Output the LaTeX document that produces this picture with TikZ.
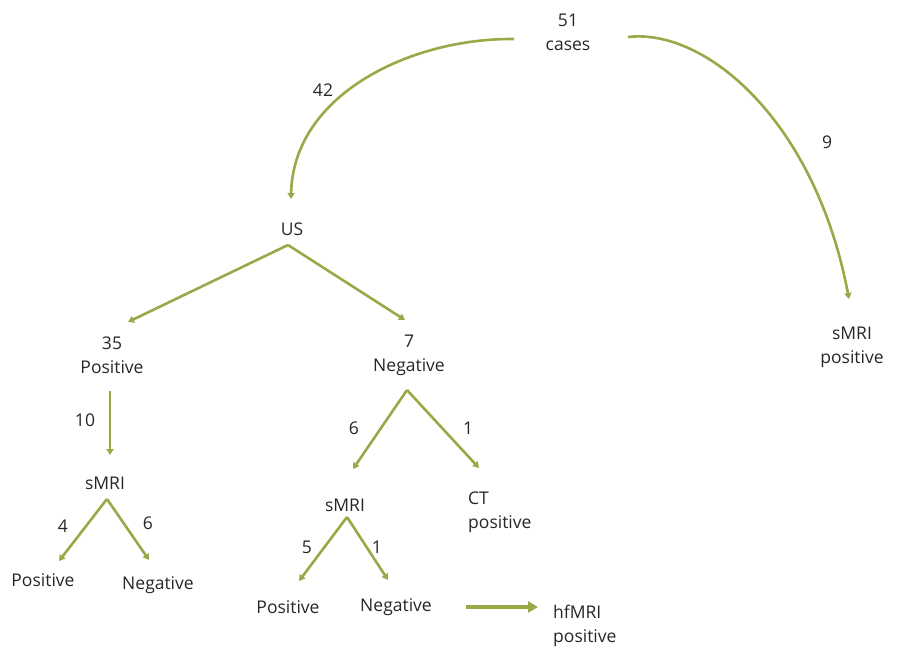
\documentclass[tikz,border=0pt]{standalone}
\usepackage{fontspec}
\setmainfont{Open Sans}
\usetikzlibrary{arrows.meta}
\definecolor{olv}{RGB}{150,170,72}
\tikzset{
  lbl/.style={inner sep=0pt, font=\fontsize{17.5}{24}\selectfont, text=black!85, align=center},
  conn/.style={draw=olv, line width=2.6pt, -{Triangle[length=6pt,width=7pt]}},
  bigconn/.style={draw=olv, line width=4.5pt, -{Triangle[length=10pt,width=11pt]}},
}
\begin{document}
\begin{tikzpicture}[x=1pt,y=-1pt]
\useasboundingbox (0,0) rectangle (898,648);
% text nodes
\node[lbl] (cases) at (568,32) {51\\cases};
\node[lbl] (l42) at (323,90) {42};
\node[lbl] (l9) at (827,142) {9};
\node[lbl] (us) at (292,229) {US};
\node[lbl] (pos35) at (112,355) {35\\Positive};
\node[lbl] (neg7) at (409,355) {7\\Negative};
\node[lbl] (smriR) at (852,347) {sMRI\\positive};
\node[lbl] (l10) at (85,420) {10};
\node[lbl] (smriA) at (105,483) {sMRI};
\node[lbl] (l4) at (63,526) {4};
\node[lbl] (l6a) at (148,523) {6};
\node[lbl] (posA) at (43,580) {Positive};
\node[lbl] (negA) at (158,585) {Negative};
\node[lbl] (l6b) at (354,428) {6};
\node[lbl] (l1a) at (468,428) {1};
\node[lbl] (smriB) at (345,505) {sMRI};
\node[lbl, align=left, anchor=west] (ct) at (468,512) {CT\\positive};
\node[lbl] (l5) at (307,547) {5};
\node[lbl] (l1b) at (377,547) {1};
\node[lbl] (posB) at (288,607) {Positive};
\node[lbl] (negB) at (396,607) {Negative};
\node[lbl, align=left, anchor=west] (hf) at (553,626) {hfMRI\\positive};
% connector points
\coordinate (cL) at (514,39);
\coordinate (cR) at (628,37);
\coordinate (usTip) at (291,199);
\coordinate (rTip) at (849,299);
\coordinate (apUS) at (288,245);
\coordinate (tipPos35) at (128,322);
\coordinate (tipNeg7) at (405,320);
\coordinate (s10) at (110,391);
\coordinate (t10) at (110,455);
\coordinate (apA) at (107,499);
\coordinate (tA1) at (59,561);
\coordinate (tA2) at (149,560);
\coordinate (apN) at (407,390);
\coordinate (tN1) at (353,469);
\coordinate (tN2) at (479,468);
\coordinate (apB) at (347,517);
\coordinate (tB1) at (299,581);
\coordinate (tB2) at (388,580);
\coordinate (hs) at (466,607);
\coordinate (he) at (538,607);
% connectors
\draw[conn] (cL) .. controls (410,38) and (293,95) .. (usTip);
\draw[conn] (cR) .. controls (705,28) and (815,120) .. (rTip);
\draw[conn] (apUS) -- (tipPos35);
\draw[conn] (apUS) -- (tipNeg7);
\draw[conn] (s10) -- (t10);
\draw[conn] (apA) -- (tA1);
\draw[conn] (apA) -- (tA2);
\draw[conn] (apN) -- (tN1);
\draw[conn] (apN) -- (tN2);
\draw[conn] (apB) -- (tB1);
\draw[conn] (apB) -- (tB2);
\draw[bigconn] (hs) -- (he);
\end{tikzpicture}
\end{document}
